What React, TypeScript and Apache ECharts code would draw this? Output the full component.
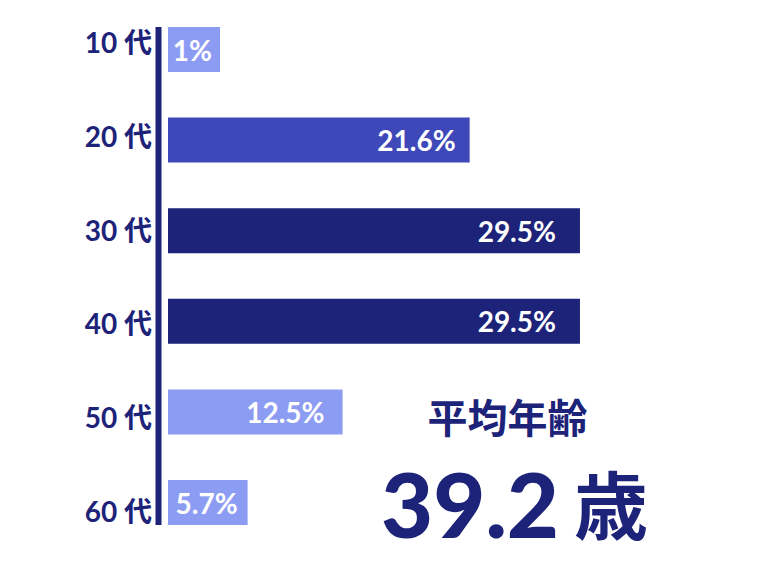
import * as echarts from 'echarts';
import React, { useEffect, useRef } from 'react';

const ageGroups = ['10 代', '20 代', '30 代', '40 代', '50 代', '60 代'];
const shares = [1, 21.6, 29.5, 29.5, 12.5, 5.7];
const averageAge = '39.2';
const averageLabel = '平均年齢';
const ageUnit = '歳';

const barColors = ['#8c9cf3', '#3e48b9', '#1d2379', '#1d2379', '#8c9cf3', '#8c9cf3'];
const labelInset = [8, 14, 24, 24, 18, 10];

const NAVY = '#1d2379';
const NUM_FONT = 'Lato, "Noto Sans CJK JP", sans-serif';
const CJK_FONT = '"Noto Sans CJK JP", sans-serif';
const BAR_WIDTH = 45;
const GRID_LEFT = 168;

const App: React.FC = () => {
  const ref = useRef<HTMLDivElement>(null);

  useEffect(() => {
    document.body.style.margin = '0';
    const chart = echarts.init(ref.current, null, { renderer: 'svg' });

    chart.setOption({
      animation: false,
      grid: [
        { left: GRID_LEFT, right: 39.4, top: 49.5, bottom: 79.5 },
        { left: GRID_LEFT, right: 39.4, top: 42, bottom: 71 },
      ],
      xAxis: [
        { type: 'value', min: 0, max: 40, show: false, gridIndex: 0 },
        { type: 'value', min: 0, max: 40, show: false, gridIndex: 1 },
      ],
      yAxis: [
        {
          type: 'category',
          gridIndex: 0,
          data: ageGroups,
          inverse: true,
          boundaryGap: false,
          axisLine: { show: false },
          axisTick: { show: false },
          axisLabel: { show: false },
          splitLine: { show: false },
        },
        {
          type: 'category',
          gridIndex: 1,
          data: ageGroups,
          inverse: true,
          boundaryGap: false,
          offset: 9.5,
          axisLine: { show: false, onZero: false },
          axisTick: { show: false },
          splitLine: { show: false },
          axisLabel: {
            margin: 6.5,
            color: NAVY,
            fontSize: 28,
            fontWeight: 'bold',
            fontFamily: NUM_FONT,
          },
        },
      ],
      series: [
        {
          type: 'bar',
          xAxisIndex: 0,
          yAxisIndex: 0,
          barWidth: BAR_WIDTH,
          barMinHeight: 52,
          data: shares.map((v, i) => ({
            value: v,
            itemStyle: { color: barColors[i] },
            label: { distance: labelInset[i] },
          })),
          label: {
            show: true,
            position: 'insideRight',
            color: '#ffffff',
            fontSize: 28,
            fontWeight: 'bold',
            fontFamily: NUM_FONT,
            formatter: '{c}%',
          },
        },
      ],
      graphic: [
        {
          id: 'avgLabel',
          type: 'text',
          x: 507.5,
          y: 415.5,
          style: {
            text: averageLabel,
            fill: NAVY,
            font: `bold 40px ${CJK_FONT}`,
            textAlign: 'center',
            textVerticalAlign: 'middle',
          },
        },
        {
          id: 'avgValue',
          type: 'text',
          x: 381,
          y: 503,
          style: {
            text: averageAge,
            fill: NAVY,
            font: `900 90px ${NUM_FONT}`,
            textAlign: 'left',
            textVerticalAlign: 'middle',
          },
        },
        {
          id: 'avgUnit',
          type: 'text',
          x: 574,
          y: 501,
          style: {
            text: ageUnit,
            fill: NAVY,
            font: `bold 74px ${CJK_FONT}`,
            textAlign: 'left',
            textVerticalAlign: 'middle',
          },
        },
      ],
    });

    // vertical axis bar spanning from the first bar's top to the last bar's bottom
    const yFirst = chart.convertToPixel({ yAxisIndex: 0 }, ageGroups[0]) as number;
    const yLast = chart.convertToPixel({ yAxisIndex: 0 }, ageGroups[ageGroups.length - 1]) as number;
    const top = Math.min(yFirst, yLast) - BAR_WIDTH / 2;
    const bottom = Math.max(yFirst, yLast) + BAR_WIDTH / 2;
    chart.setOption({
      graphic: [
        {
          id: 'axisBar',
          type: 'rect',
          shape: { x: GRID_LEFT - 12.5, y: top, width: 6, height: bottom - top },
          style: { fill: NAVY },
        },
      ],
    });

    return () => {
      chart.dispose();
    };
  }, []);

  return <div ref={ref} style={{ width: 766, height: 582 }}></div>;
};

export default App;
